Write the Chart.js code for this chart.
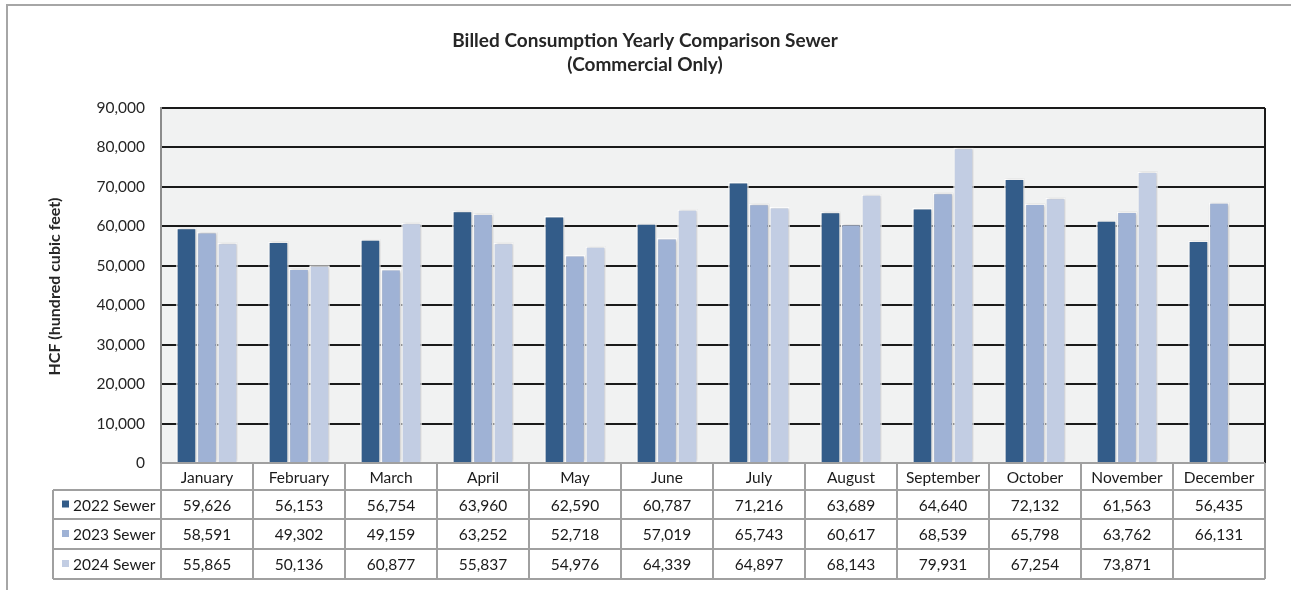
<!DOCTYPE html>
<html>
<head>
  <meta charset="UTF-8">
  <title>Billed Consumption Yearly Comparison Sewer</title>
  <script src="https://cdn.jsdelivr.net/npm/chart.js"></script>
  <style>
    body { margin: 0; background: #fff; }
    #wrap { width: 1291px; height: 590px; }
  </style>
</head>
<body>
  <div id="wrap"><canvas id="myChart" width="1291" height="590"></canvas></div>

  <script>
    const months = ['January', 'February', 'March', 'April', 'May', 'June', 'July',
      'August', 'September', 'October', 'November', 'December'];
    const sewer2022 = [59626, 56153, 56754, 63960, 62590, 60787, 71216, 63689, 64640, 72132, 61563, 56435];
    const sewer2023 = [58591, 49302, 49159, 63252, 52718, 57019, 65743, 60617, 68539, 65798, 63762, 66131];
    const sewer2024 = [55865, 50136, 60877, 55837, 54976, 64339, 64897, 68143, 79931, 67254, 73871, null];
    const seriesNames = ['2022 Sewer', '2023 Sewer', '2024 Sewer'];
    const seriesColors = ['#335c89', '#9fb2d5', '#c2cde3'];
    const titleLines = ['Billed Consumption Yearly Comparison Sewer', '(Commercial Only)'];
    const yTitle = 'HCF (hundred cubic feet)';

    const FONT = 'Lato, "Open Sans", sans-serif';
    const fmt = v => v == null ? '' : v.toLocaleString('en-US');

    // plot background
    const bgPlugin = {
      id: 'plotBg',
      beforeDraw(chart) {
        const { ctx, chartArea: a } = chart;
        ctx.save();
        ctx.fillStyle = '#fff';
        ctx.fillRect(0, 0, chart.width, chart.height);
        ctx.fillStyle = '#f1f2f2';
        ctx.fillRect(a.left, a.top, a.right - a.left, a.bottom - a.top);
        ctx.restore();
      }
    };

    // soft shadow behind the bars
    const shadowPlugin = {
      id: 'barShadow',
      beforeDatasetsDraw(chart) {
        const ctx = chart.ctx;
        ctx.save();
        ctx.shadowColor = 'rgba(0,0,0,0.25)';
        ctx.shadowBlur = 3;
        ctx.shadowOffsetX = 1;
      },
      afterDatasetsDraw(chart) {
        chart.ctx.restore();
      }
    };

    // titles, frame and the data table under the plot
    const tablePlugin = {
      id: 'dataTable',
      afterDraw(chart) {
        const { ctx, chartArea: a } = chart;
        const xs = chart.scales.x;
        const colW = (a.right - a.left) / months.length;
        const rowTop = [a.bottom, 490, 519, 549, 579];
        const legendLeft = 53;

        ctx.save();
        // outer frame
        ctx.strokeStyle = '#a6a6a6';
        ctx.lineWidth = 2;
        ctx.beginPath();
        ctx.moveTo(7, 600); ctx.lineTo(7, 5); ctx.lineTo(1291, 5);
        ctx.stroke();

        // right plot border
        ctx.strokeStyle = '#1a1a1a';
        ctx.beginPath();
        ctx.moveTo(a.right, a.top); ctx.lineTo(a.right, a.bottom);
        ctx.stroke();

        // title
        ctx.fillStyle = '#262626';
        ctx.textAlign = 'center';
        ctx.textBaseline = 'middle';
        ctx.font = 'bold 19px ' + FONT;
        ctx.fillText(titleLines[0], 645, 41);
        ctx.fillText(titleLines[1], 645, 65);

        // y-axis title
        ctx.save();
        ctx.translate(55, (a.top + a.bottom) / 2 + 1);
        ctx.rotate(-Math.PI / 2);
        ctx.font = 'bold 16px ' + FONT;
        ctx.fillText(yTitle, 0, 0);
        ctx.restore();

        // table grid
        ctx.strokeStyle = '#a0a0a0';
        ctx.lineWidth = 2;
        ctx.beginPath();
        for (let r = 0; r < rowTop.length; r++) {
          const x0 = r === 0 ? a.left : legendLeft;
          ctx.moveTo(x0, rowTop[r]); ctx.lineTo(a.right, rowTop[r]);
        }
        ctx.moveTo(legendLeft, rowTop[1]); ctx.lineTo(legendLeft, rowTop[4]);
        for (let c = 0; c <= months.length; c++) {
          const x = a.left + c * colW;
          ctx.moveTo(x, rowTop[0]); ctx.lineTo(x, rowTop[4]);
        }
        ctx.stroke();

        // table text
        ctx.font = '15.5px ' + FONT;
        ctx.fillStyle = '#1a1a1a';
        ctx.textAlign = 'center';
        const series = [sewer2022, sewer2023, sewer2024];
        months.forEach((m, i) => {
          const cx = xs.getPixelForTick(i);
          ctx.fillText(m, cx, (rowTop[0] + rowTop[1]) / 2 + 1);
          series.forEach((s, k) => {
            ctx.fillText(fmt(s[i]), cx, (rowTop[k + 1] + rowTop[k + 2]) / 2 + 1);
          });
        });
        ctx.textAlign = 'left';
        seriesNames.forEach((n, k) => {
          const cy = (rowTop[k + 1] + rowTop[k + 2]) / 2;
          ctx.fillStyle = seriesColors[k];
          ctx.fillRect(62, cy - 4, 7, 7);
          ctx.fillStyle = '#1a1a1a';
          ctx.fillText(n, 73, cy + 1);
        });
        ctx.restore();
      }
    };

    const ctx = document.getElementById('myChart').getContext('2d');
    new Chart(ctx, {
      type: 'bar',
      data: {
        labels: months,
        datasets: [sewer2022, sewer2023, sewer2024].map((d, k) => ({
          label: seriesNames[k],
          data: d,
          backgroundColor: seriesColors[k],
          borderColor: '#ffffff',
          borderWidth: 1.5,
          borderSkipped: 'bottom',
          categoryPercentage: 0.67,
          barPercentage: 1.0
        }))
      },
      options: {
        responsive: false,
        animation: false,
        devicePixelRatio: 1,
        layout: { padding: { top: 108, left: 0, right: 26, bottom: 127 } },
        plugins: {
          legend: { display: false },
          title: { display: false },
          tooltip: { enabled: false }
        },
        scales: {
          x: { display: false },
          y: {
            min: 0,
            max: 90000,
            afterFit(scale) { scale.width = 161; },
            ticks: {
              stepSize: 10000,
              padding: 16,
              color: '#262626',
              font: { family: FONT, size: 15.5 },
              callback: v => v.toLocaleString('en-US')
            },
            grid: { color: '#1a1a1a', lineWidth: 2, drawTicks: false },
            border: { color: '#8c8c8c', width: 2 }
          }
        }
      },
      plugins: [bgPlugin, shadowPlugin, tablePlugin]
    });
  </script>
</body>
</html>
